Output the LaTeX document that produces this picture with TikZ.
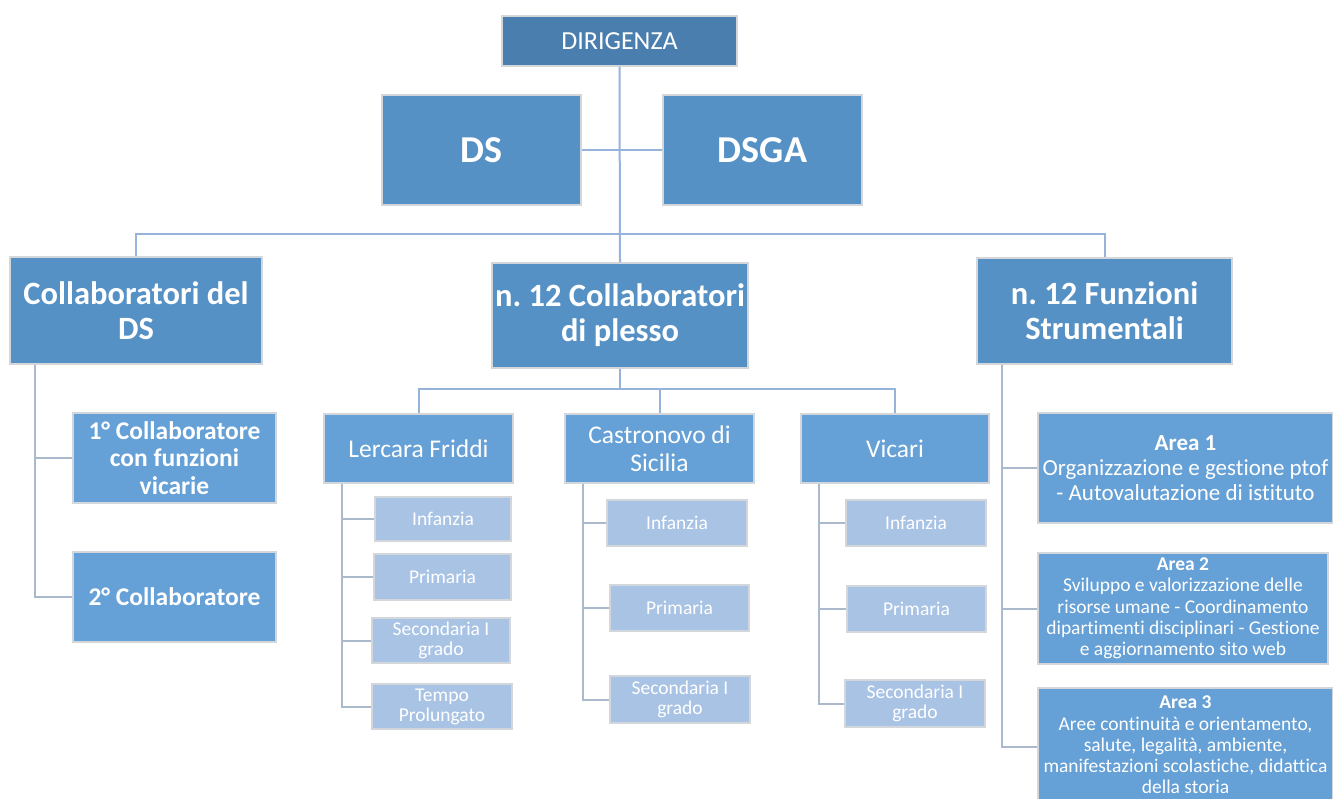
\documentclass[tikz,border=0pt]{standalone}
\usepackage{fontspec}
\setmainfont{Carlito}[Ligatures=NoCommon]
\frenchspacing
\definecolor{topfill}{HTML}{4A7EAE}
\definecolor{midfill}{HTML}{5591C5}
\definecolor{subfill}{HTML}{65A0D6}
\definecolor{leaffill}{HTML}{A9C3E5}
\definecolor{edgegray}{HTML}{D3D6DA}
\definecolor{linkblue}{HTML}{95B3DB}
\definecolor{linkgray}{HTML}{ABB9CC}
\newcommand{\fsz}[2]{\fontsize{#1pt}{#2pt}\selectfont}
\tikzset{
  box/.style={rectangle, draw=edgegray, line width=1.3pt, text=white,
    align=center, inner sep=0pt},
  topbox/.style={box, fill=topfill, font=\fsz{26}{30}},
  bigbox/.style={box, fill=midfill, font=\fsz{38}{44}\bfseries},
  headbox/.style={box, fill=midfill, font=\fsz{32.5}{35}\bfseries},
  collbox/.style={box, fill=subfill, font=\fsz{25.5}{27.5}\bfseries},
  sitebox/.style={box, fill=subfill, font=\fsz{25.5}{28}},
  leafbox/.style={box, fill=leaffill, font=\fsz{19.5}{20}},
  areabox/.style={box, fill=subfill},
  conn/.style={draw=linkblue, line width=2pt},
  subconn/.style={draw=linkgray, line width=2pt},
}
\begin{document}
\begin{tikzpicture}[x=1pt, y=-1pt]
\clip (0,0) rectangle (1333,798);
\fill[white] (0,0) rectangle (1333,798);

% top level
\node[topbox, minimum width=235pt, minimum height=50pt] (dir) at (619.5,41) {DIRIGENZA};
\node[bigbox, minimum width=199pt, minimum height=110pt] (ds) at (481.5,150) {DS};
\node[bigbox, minimum width=199pt, minimum height=110pt] (dsga) at (762.5,150) {DSGA};

% second level
\node[headbox, minimum width=252pt, minimum height=107pt] (cds) at (136,310.5) {Collaboratori del\\DS};
\node[headbox, minimum width=256pt, minimum height=105pt] (cpl) at (620,315.5) {n. 12 Collaboratori\\di plesso};
\node[headbox, minimum width=255pt, minimum height=106pt] (fs) at (1104.5,311) {n. 12 Funzioni\\Strumentali};

% collaborators of the DS
\node[collbox, minimum width=203pt, minimum height=90pt] (c1) at (174.5,458) {1° Collaboratore\\con funzioni\\vicarie};
\node[collbox, minimum width=203pt, minimum height=90pt] (c2) at (174.5,597) {2° Collaboratore};

% school sites
\node[sitebox, minimum width=189pt, minimum height=69pt] (ler) at (418.5,448.5) {Lercara Friddi};
\node[sitebox, minimum width=189pt, minimum height=69pt] (cas) at (659.5,448.5) {Castronovo di\\Sicilia};
\node[sitebox, minimum width=188pt, minimum height=69pt] (vic) at (895,448.5) {Vicari};

% Lercara Friddi grades
\node[leafbox, minimum width=136pt, minimum height=44pt] (li) at (443,519) {Infanzia};
\node[leafbox, minimum width=137pt, minimum height=46pt] (lp) at (442.5,577) {Primaria};
\node[leafbox, minimum width=138pt, minimum height=45pt] (ls) at (441,640.5) {Secondaria I\\grado};
\node[leafbox, minimum width=140pt, minimum height=45pt] (lt) at (442,706.5) {Tempo\\Prolungato};

% Castronovo di Sicilia grades
\node[leafbox, minimum width=140pt, minimum height=46pt] (ci) at (677,523) {Infanzia};
\node[leafbox, minimum width=139pt, minimum height=46pt] (cp) at (679.5,608) {Primaria};
\node[leafbox, minimum width=140pt, minimum height=47pt] (cs) at (680,699.5) {Secondaria I\\grado};

% Vicari grades
\node[leafbox, minimum width=140pt, minimum height=46pt] (vi) at (916,523) {Infanzia};
\node[leafbox, minimum width=139pt, minimum height=46pt] (vp) at (916.5,609) {Primaria};
\node[leafbox, minimum width=140pt, minimum height=47pt] (vs) at (915,703.5) {Secondaria I\\grado};

% functional areas
\node[areabox, minimum width=295pt, minimum height=110pt, font=\fsz{23}{25}] (a1) at (1185.5,468)
  {\textbf{Area 1}\\Organizzazione e gestione ptof\\- Autovalutazione di istituto};
\node[areabox, minimum width=290pt, minimum height=111pt, font=\fsz{19.5}{21.3}] (a2) at (1183,608.5)
  {\textbf{Area 2}\\Sviluppo e valorizzazione delle\\risorse umane - Coordinamento\\dipartimenti disciplinari - Gestione\\e aggiornamento sito web};
\node[areabox, minimum width=295pt, minimum height=114pt, font=\fsz{19.5}{21.3}] (a3) at (1185.5,745)
  {\textbf{Area 3}\\Aree continuità e orientamento,\\salute, legalità, ambiente,\\manifestazioni scolastiche, didattica\\della storia};

% junction points of the tree
\coordinate (bar) at (620,234);
\coordinate (pbar) at (620,389);

% connectors of the upper tree
\draw[conn] (dir.south) -- (cpl.north);
\draw[conn] (ds.east) -- (dsga.west);
\draw[conn] (cds.north) |- (bar) -| (fs.north);
\draw[conn] (cpl.south) -- (pbar);
\draw[conn] (ler.north) |- (pbar) -| (vic.north);
\draw[conn] (cas.north) -- (cas.north |- pbar);

% side branches
\draw[subconn] ([xshift=26pt]cds.south west) |- (c1.west);
\draw[subconn] ([xshift=26pt]cds.south west) |- (c2.west);
\foreach \c in {li,lp,ls,lt}
  \draw[subconn] ([xshift=19pt]ler.south west) |- (\c.west);
\foreach \c in {ci,cp,cs}
  \draw[subconn] ([xshift=19pt]cas.south west) |- (\c.west);
\foreach \c in {vi,vp,vs}
  \draw[subconn] ([xshift=19pt]vic.south west) |- (\c.west);
\draw[subconn] ([xshift=26pt]fs.south west) |- (a1.west);
\draw[subconn] ([xshift=26pt]fs.south west) |- (a2.west);
\draw[subconn] ([xshift=26pt]fs.south west) |- ([yshift=-2pt]a3.west);
\end{tikzpicture}
\end{document}
